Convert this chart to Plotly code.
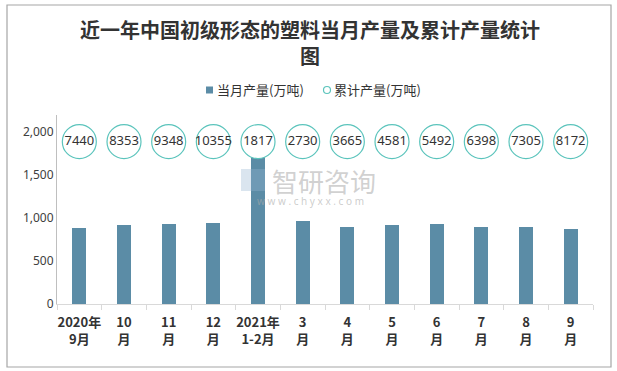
import plotly.graph_objects as go

categories = ["2020年<br>9月", "10<br>月", "11<br>月", "12<br>月", "2021年<br>1-2月", "3<br>月",
              "4<br>月", "5<br>月", "6<br>月", "7<br>月", "8<br>月", "9<br>月"]
monthly = [887, 922, 934, 945, 1817, 968, 899, 922, 934, 899, 899, 876]
cumulative = [7440, 8353, 9348, 10355, 1817, 2730, 3665, 4581, 5492, 6398, 7305, 8172]
series_names = ["当月产量(万吨)", "累计产量(万吨)"]

W, H = 617, 371
ML, MR, MT, MB = 57, 24, 115, 67
label_y = 1890
BAR_COLOR = "#5b8ca6"
CIRCLE_COLOR = "#5bc4bc"

fig = go.Figure()
fig.add_trace(go.Bar(
    x=categories, y=monthly, name=series_names[0], showlegend=False,
    marker=dict(color=BAR_COLOR, line=dict(width=0)), width=0.31,
))
fig.add_trace(go.Scatter(
    x=categories, y=[label_y] * len(categories), name=series_names[1], showlegend=False,
    mode="markers+text", text=[str(v) for v in cumulative], textposition="middle center",
    textfont=dict(size=13, color="#333333", family="Noto Sans"),
    marker=dict(symbol="circle", size=34, color="white", line=dict(color=CIRCLE_COLOR, width=1.2)),
))

pw = W - ML - MR
ph = H - MT - MB


def px_x(x):
    return (x - ML) / pw


def px_y(y):
    return (H - MB - y) / ph


# outer frame
fig.add_shape(type="rect", xref="paper", yref="paper",
              x0=px_x(7), x1=px_x(611), y0=px_y(367), y1=px_y(5),
              line=dict(color="#a6a6a6", width=1.2), fillcolor="rgba(0,0,0,0)", layer="below")

# title
fig.add_annotation(xref="paper", yref="paper", x=px_x(310), y=px_y(42), xanchor="center", yanchor="middle",
                   showarrow=False, align="center",
                   text="<b>近一年中国初级形态的塑料当月产量及累计产量统计<br>图</b>",
                   font=dict(size=20, color="#333333", family="Noto Sans CJK SC"))

# legend (drawn by hand to match compact spacing)
LEG_Y = 90
fig.add_shape(type="rect", xref="paper", yref="paper", x0=px_x(206), x1=px_x(213),
              y0=px_y(LEG_Y + 3.5), y1=px_y(LEG_Y - 3.5), line=dict(width=0), fillcolor=BAR_COLOR)
fig.add_annotation(xref="paper", yref="paper", x=px_x(215), y=px_y(LEG_Y), xanchor="left", yanchor="middle",
                   showarrow=False, text=series_names[0],
                   font=dict(size=13, color="#333333", family="Noto Sans CJK SC"))
fig.add_shape(type="circle", xref="paper", yref="paper", x0=px_x(323.5), x1=px_x(330.5),
              y0=px_y(LEG_Y + 3.5), y1=px_y(LEG_Y - 3.5), line=dict(width=1.2, color=CIRCLE_COLOR),
              fillcolor="white")
fig.add_annotation(xref="paper", yref="paper", x=px_x(332), y=px_y(LEG_Y), xanchor="left", yanchor="middle",
                   showarrow=False, text=series_names[1],
                   font=dict(size=13, color="#333333", family="Noto Sans CJK SC"))

# watermark
fig.add_annotation(xref="paper", yref="paper", x=px_x(324), y=px_y(180), showarrow=False,
                   text="智研咨询", font=dict(size=26, color="rgba(170,170,170,0.55)", family="Noto Sans CJK SC"))
fig.add_annotation(xref="paper", yref="paper", x=px_x(310), y=px_y(201), showarrow=False,
                   text="w w w . c h y x x . c o m", font=dict(size=10, color="rgba(170,170,170,0.6)", family="Noto Sans"))
fig.add_shape(type="rect", xref="paper", yref="paper", x0=px_x(241), x1=px_x(265), y0=px_y(191), y1=px_y(169),
              line=dict(width=0), fillcolor="rgba(150,180,210,0.35)")

fig.update_layout(
    width=W, height=H,
    margin=dict(l=ML, r=MR, t=MT, b=MB, autoexpand=False),
    paper_bgcolor="white", plot_bgcolor="white",
    showlegend=False,
    bargap=0,
    font=dict(family="Noto Sans CJK SC", color="#333333"),
)
fig.update_xaxes(range=[-0.5, len(categories) - 0.5], type="category",
                 showline=True, linecolor="#d9d9d9", linewidth=1, ticks="outside", tickson="boundaries",
                 tickcolor="#d9d9d9", ticklen=5, showgrid=False, tickangle=0, automargin=False,
                 ticklabelstandoff=6,
                 tickfont=dict(size=13, color="#333333", family="Noto Sans CJK SC", weight="bold"))
fig.update_yaxes(range=[0, 2200], tickvals=[0, 500, 1000, 1500, 2000], tickformat=",", showgrid=False,
                 showline=True, linecolor="#bfbfbf", linewidth=1, zeroline=False, automargin=False,
                 tickfont=dict(size=12, color="#404040", family="Noto Sans"))

fig.write_html("out.html", config={"displayModeBar": False},
               post_script="document.body.style.margin='0';document.body.style.padding='0';")
